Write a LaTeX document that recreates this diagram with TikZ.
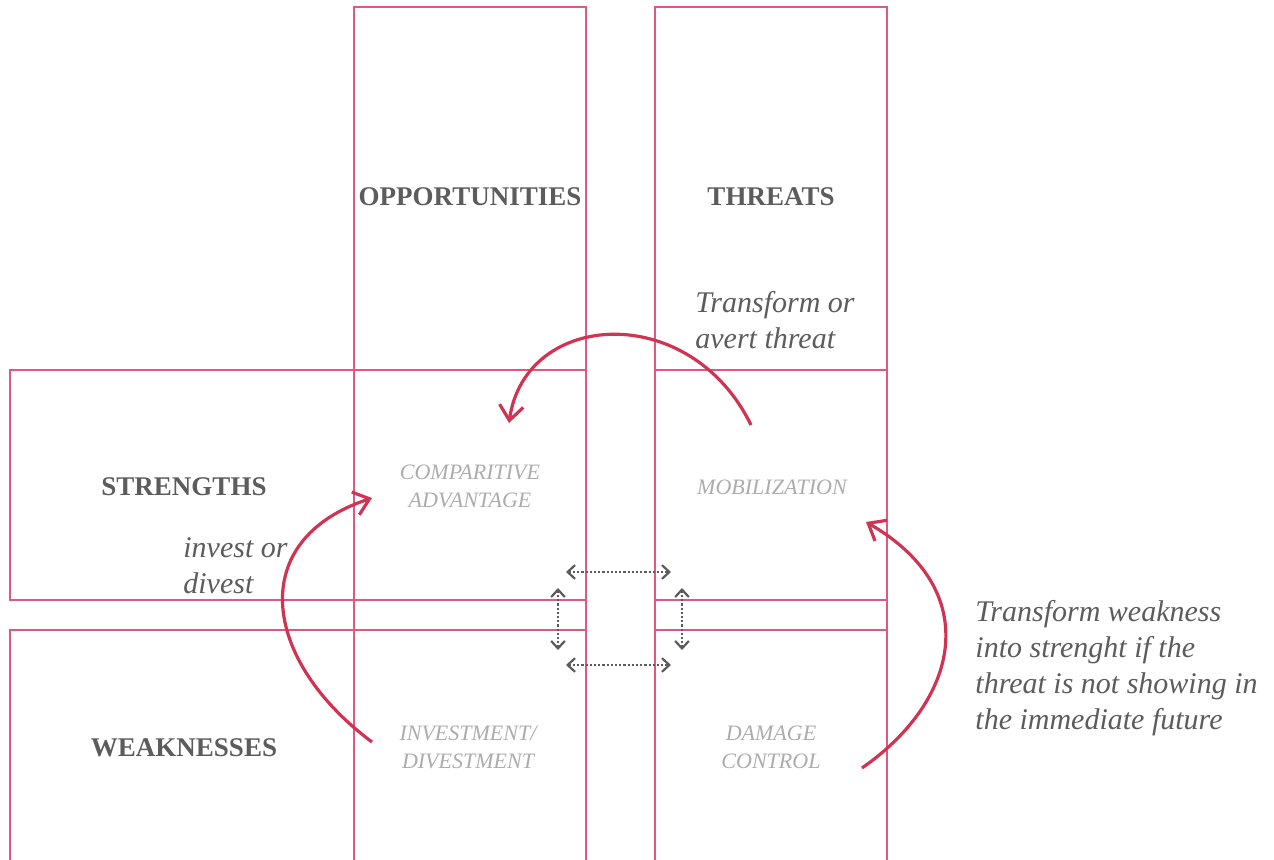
\documentclass[tikz,border=0pt]{standalone}
\usepackage{fontspec}
\setmainfont{Liberation Serif}
\usetikzlibrary{arrows.meta}
\definecolor{rosa}{RGB}{222,88,130}
\definecolor{carmin}{RGB}{208,52,82}
\definecolor{grisoscuro}{RGB}{92,92,92}
\definecolor{grisclaro}{RGB}{172,172,172}
\tikzset{
  cuadro/.style={
    draw=rosa,
    line width=.6pt
  },
  titulo/.style={
    font=\fontsize{13.5}{16}\selectfont\bfseries,
    text=grisoscuro,
    align=center,
    inner sep=0pt
  },
  celda/.style={
    font=\fontsize{11}{14}\selectfont\itshape,
    text=grisclaro,
    align=center,
    inner sep=0pt
  },
  nota/.style={
    font=\fontsize{15}{18}\selectfont\itshape,
    text=grisoscuro,
    align=left,
    anchor=north west,
    inner sep=0pt
  },
  flecha/.style={
    -{Straight Barb[length=2.6mm,width=4.2mm]},
    line width=1.6pt,
    carmin
  },
  doble/.style={
    {Straight Barb[length=1.3mm,width=2.4mm]}-{Straight Barb[length=1.3mm,width=2.4mm]},
    densely dotted,
    line width=1.1pt,
    grisoscuro
  }
}

\begin{document}
\begin{tikzpicture}[x=0.5pt,y=-0.5pt]
\clip (0,0) rectangle (1274,860);
\draw[cuadro] (354,7) rectangle (586,880);
\draw[cuadro] (655,7) rectangle (887,880);
\draw[cuadro] (10,370) rectangle (586,600);
\draw[cuadro] (655,370) rectangle (887,600);
\draw[cuadro] (10,630) rectangle (586,880);
\draw[cuadro] (655,630) rectangle (887,880);

\node[titulo] (opor) at (470,197) {OPPORTUNITIES};
\node[titulo] (amen) at (771,197) {THREATS};
\node[titulo] (fort) at (184,487) {STRENGTHS};
\node[titulo] (debi) at (184,748) {WEAKNESSES};

\node[celda] (ventaja) at (470,486) {COMPARITIVE\\ADVANTAGE};
\node[celda] (movil) at (772,487) {MOBILIZATION};
\node[celda] (inver) at (468,747) {INVESTMENT/\\DIVESTMENT};
\node[celda] (danio) at (771,747) {DAMAGE\\CONTROL};

\node[nota] (n1) at (695,291) {Transform or\\avert threat};
\node[nota] (n2) at (183,537) {invest or\\divest};
\node[nota] (n3) at (975,600) {Transform weakness\\into strenght if the\\threat is not showing in\\the immediate future};

\coordinate (a1) at (751,425);
\coordinate (a2) at (509,423);
\coordinate (b1) at (372,742);
\coordinate (b2) at (372,498);
\coordinate (c1) at (862,768);
\coordinate (c2) at (866,522);
\draw[flecha] (a1) .. controls (690,300) and (525,310) .. (a2);
\draw[flecha] (b1) .. controls (262,660) and (245,540) .. (b2);
\draw[flecha] (c1) .. controls (960,700) and (984,590) .. (c2);

\coordinate (h1) at (566,572);
\coordinate (h2) at (671,572);
\coordinate (h3) at (566,665);
\coordinate (h4) at (671,665);
\coordinate (v1) at (558,588);
\coordinate (v2) at (558,650);
\coordinate (v3) at (682,588);
\coordinate (v4) at (682,650);
\draw[doble] (h1) -- (h2);
\draw[doble] (h3) -- (h4);
\draw[doble] (v1) -- (v2);
\draw[doble] (v3) -- (v4);
\end{tikzpicture}
\end{document}
